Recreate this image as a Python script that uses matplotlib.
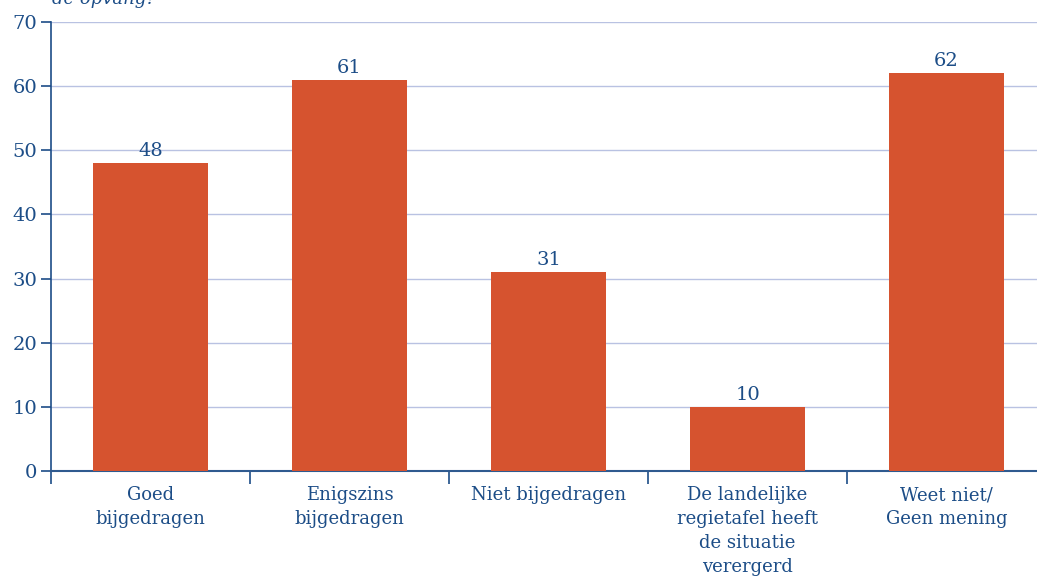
import numpy as np
import matplotlib
matplotlib.use("Agg")
import matplotlib.pyplot as plt

categories = ["Goed\nbijgedragen", "Enigszins\nbijgedragen", "Niet bijgedragen",
              "De landelijke\nregietafel heeft\nde situatie\nverergerd",
              "Weet niet/\nGeen mening"]
values = [48, 61, 31, 10, 62]
yticks = [0, 10, 20, 30, 40, 50, 60, 70]

BAR = "#d6532f"
TXT = "#1c4d87"
GRID = "#b9c2e2"

plt.rcParams["font.family"] = ["DejaVu Serif"]

fig = plt.figure(figsize=(10.37, 5.83), dpi=100)
ax = fig.add_axes([51 / 1037, 1 - 471 / 583, 995 / 1037, 449 / 583])

x = np.arange(len(values))
bars = ax.bar(x, values, width=0.58, color=BAR, zorder=3)
for b, v in zip(bars, values):
    ax.text(b.get_x() + b.get_width() / 2, v + 0.5, str(v), ha="center",
            va="bottom", color=TXT, fontsize=14)

ax.set_xlim(-0.5, len(values) - 0.5)
ax.set_ylim(0, 70)
ax.set_yticks(yticks)
ax.tick_params(axis="y", colors=TXT, labelsize=14, length=7, width=1.2, pad=3)
ax.yaxis.grid(True, color=GRID, linewidth=1, zorder=0)

ax.set_xticks(x)
ax.set_xticklabels(categories, color=TXT, fontsize=13, linespacing=1.42)
ax.tick_params(axis="x", length=0, pad=11)
ax.set_xticks(np.arange(-0.5, len(values)), minor=True)
ax.tick_params(axis="x", which="minor", length=9, width=1.2, color=TXT)

for s in ["top", "right"]:
    ax.spines[s].set_visible(False)
ax.spines["left"].set_color(TXT)
ax.spines["left"].set_linewidth(1.2)
ax.spines["bottom"].set_color("#2f5a8f")
ax.spines["bottom"].set_linewidth(1.5)

fig.text(52 / 1037, 1.002, "de opvang?", style="italic", color=TXT,
         fontsize=13, ha="left", va="center")

fig.savefig("out.png", dpi=100)
